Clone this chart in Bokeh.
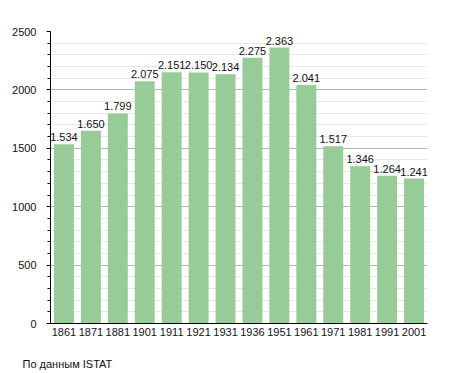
from bokeh.plotting import figure
from bokeh.models import ColumnDataSource, Title, SingleIntervalTicker
from bokeh.core.properties import value
from bokeh.embed import file_html
from bokeh.resources import INLINE

years = ["1861", "1871", "1881", "1901", "1911", "1921", "1931",
         "1936", "1951", "1961", "1971", "1981", "1991", "2001"]
population = [1534, 1650, 1799, 2075, 2151, 2150, 2134,
              2275, 2363, 2041, 1517, 1346, 1264, 1241]
labels = [f"{v:,}".replace(",", ".") for v in population]
source_note = "По данным  ISTAT"

src = ColumnDataSource(dict(x=years, top=population, lab=labels))

FONT = "Liberation Sans"
p = figure(x_range=years, y_range=(0, 2500), width=450, height=372,
           output_backend="svg", toolbar_location=None,
           min_border_left=50, min_border_right=23, min_border_top=31,
           min_border_bottom=49)
p.outline_line_color = None
p.background_fill_color = "white"

p.vbar(x="x", top="top", width=0.74, source=src,
       fill_color="#97cb97", line_color=None)
p.text(x="x", y="top", text="lab", source=src, text_align="center",
       text_baseline="bottom", y_offset=-3, text_font=value(FONT),
       text_font_size="11px", text_color="#111111")

p.yaxis.ticker = SingleIntervalTicker(interval=500, num_minor_ticks=5)
p.ygrid.ticker = SingleIntervalTicker(interval=500, num_minor_ticks=5)
p.ygrid.grid_line_color = "#b5b5b5"
p.ygrid.minor_grid_line_color = "#e8e8e8"
p.xgrid.grid_line_color = None

for ax in (p.xaxis, p.yaxis):
    ax.major_label_text_font = FONT
    ax.major_label_text_font_size = "11px"
    ax.major_label_text_color = "#111111"
    ax.axis_line_color = "black"
    ax.major_tick_in = 0
    ax.minor_tick_in = 0
p.yaxis.major_tick_out = 4
p.yaxis.minor_tick_out = 3
p.xaxis.major_tick_out = 0
p.xaxis.major_tick_line_color = None
p.xaxis.major_label_standoff = 4
p.yaxis.major_label_standoff = 10

spacer = Title(text=" ", text_font=FONT, text_font_size="13px",
               standoff=0, vertical_align="bottom")
p.add_layout(spacer, "below")
note = Title(text=source_note, align="left", text_font=FONT,
             text_font_size="11px", text_font_style="normal",
             text_color="#111111", offset=-28, standoff=0,
             vertical_align="bottom")
p.add_layout(note, "below")

open("out.html", "w").write(file_html(p, INLINE))
